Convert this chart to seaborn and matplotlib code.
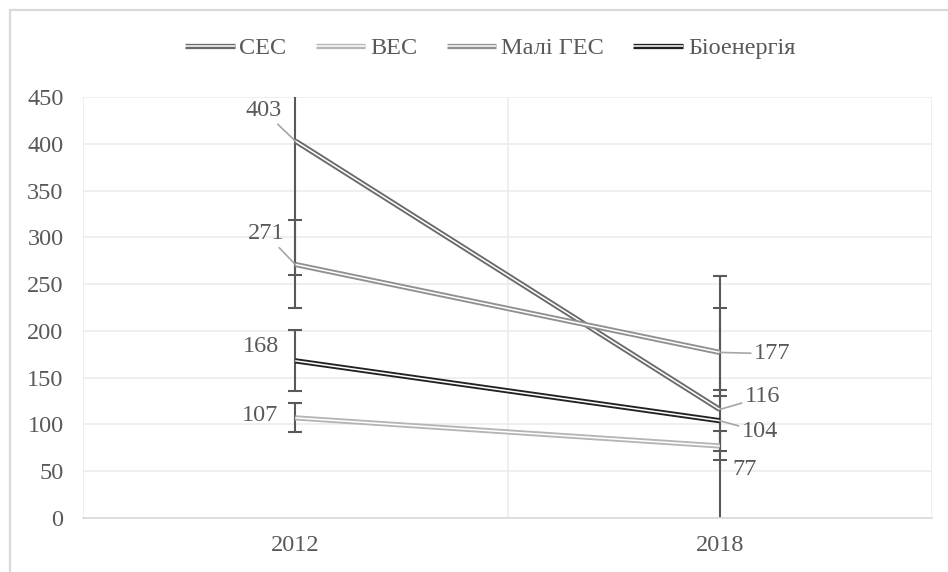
import pandas as pd
import seaborn as sns
import matplotlib.pyplot as plt
import matplotlib.patheffects as pe
from matplotlib.lines import Line2D

# data
years = ['2012', '2018']
series = ['СЕС', 'ВЕС', 'Малі ГЕС', 'Біоенергія']
ses = [403, 116]
ves = [107, 77]
mali_ges = [271, 177]
bio = [168, 104]
errors = [143, 15.5, 47, 32.5]  # error bar half-length per series

colors = ['#6a6a6a', '#b5b5b5', '#909090', '#222222']
text_color = '#595959'
fs = 17.5

# label offsets in points (dx, dy) and whether a leader line is drawn
label_layout = {
    ('СЕС', 0): (-23, 22, True), ('СЕС', 1): (31, 9, True),
    ('ВЕС', 0): (-25, 2, False), ('ВЕС', 1): (18, -17, False),
    ('Малі ГЕС', 0): (-21, 22, True), ('Малі ГЕС', 1): (38, -1, True),
    ('Біоенергія', 0): (-25, 10, False), ('Біоенергія', 1): (29, -8, True),
}

values = [ses, ves, mali_ges, bio]
rows = []
for name, vals in zip(series, values):
    for i, (yr, v) in enumerate(zip(years, vals)):
        rows.append({'series': name, 'year': yr, 'pos': i + 0.5, 'value': v})
df = pd.DataFrame(rows)

sns.set_theme(style='white')
plt.rcParams['font.family'] = ['Liberation Serif', 'DejaVu Serif']

fig = plt.figure(figsize=(9.48, 5.72), dpi=100)
ax = fig.add_axes([83 / 948, 54 / 572, 849 / 948, 421 / 572])

# error bars
for name, vals, e in zip(series, values, errors):
    ax.errorbar([0.5, 1.5], vals, yerr=e, fmt='none', ecolor='#595959',
                elinewidth=1.5, capsize=5, capthick=1.5, zorder=2)

sns.lineplot(data=df, x='pos', y='value', hue='series', hue_order=series,
             palette=colors, linewidth=3.6, legend=False, ax=ax, zorder=3)

def double_line(c):
    return [pe.Stroke(linewidth=3.8, foreground=c, capstyle='butt'),
            pe.Stroke(linewidth=1.1, foreground='white', capstyle='butt')]

for line, c in zip(ax.lines[-len(series):], colors):
    line.set_path_effects(double_line(c))

# data labels
for name, vals in zip(series, values):
    for i, v in enumerate(vals):
        dx, dy, leader = label_layout[(name, i)]
        kw = {}
        if leader:
            kw['arrowprops'] = dict(arrowstyle='-', color='#a6a6a6', lw=1.2,
                                    shrinkA=0, shrinkB=0)
        ax.annotate(str(v), xy=(i + 0.5, v), xytext=(dx, dy),
                    textcoords='offset points', ha='center', va='center',
                    fontsize=fs, color=text_color, zorder=5, **kw)

ax.set_xlim(0, 2)
ax.set_ylim(0, 450)
ax.set_yticks(range(0, 451, 50))
ax.set_xticks([0.5, 1.5])
ax.set_xticklabels(years)
ax.set_xticks([0, 1, 2], minor=True)
ax.set_xlabel('')
ax.set_ylabel('')
ax.grid(axis='y', color='#ececec', linewidth=1.2, zorder=0)
ax.grid(axis='x', which='minor', color='#ececec', linewidth=1.2, zorder=0)
ax.set_axisbelow(True)
ax.tick_params(axis='both', which='both', length=0, labelsize=fs,
               labelcolor=text_color)
ax.tick_params(axis='y', pad=14)
ax.tick_params(axis='x', pad=12)
for s in ['top', 'right', 'left']:
    ax.spines[s].set_visible(False)
ax.spines['bottom'].set_color('#d9d9d9')
ax.spines['bottom'].set_linewidth(1.2)

# legend with double-line handles
handles = []
for name, c in zip(series, colors):
    h = Line2D([], [], color=c, linewidth=3.6, label=name)
    h.set_path_effects(double_line(c))
    handles.append(h)
fig.legend(handles=handles, loc='center', bbox_to_anchor=(490 / 948, 1 - 48 / 572),
           ncol=4, frameon=False, fontsize=fs, handlelength=2.05,
           handletextpad=0.2, columnspacing=1.2, labelcolor=text_color)

# chart border (top and left edges visible)
fig.add_artist(Line2D([10 / 948, 1], [1 - 10 / 572, 1 - 10 / 572],
                      color='#d9d9d9', linewidth=1.6))
fig.add_artist(Line2D([10 / 948, 10 / 948], [0, 1 - 10 / 572],
                      color='#d9d9d9', linewidth=1.6))

plt.savefig('out.png', dpi=100)
